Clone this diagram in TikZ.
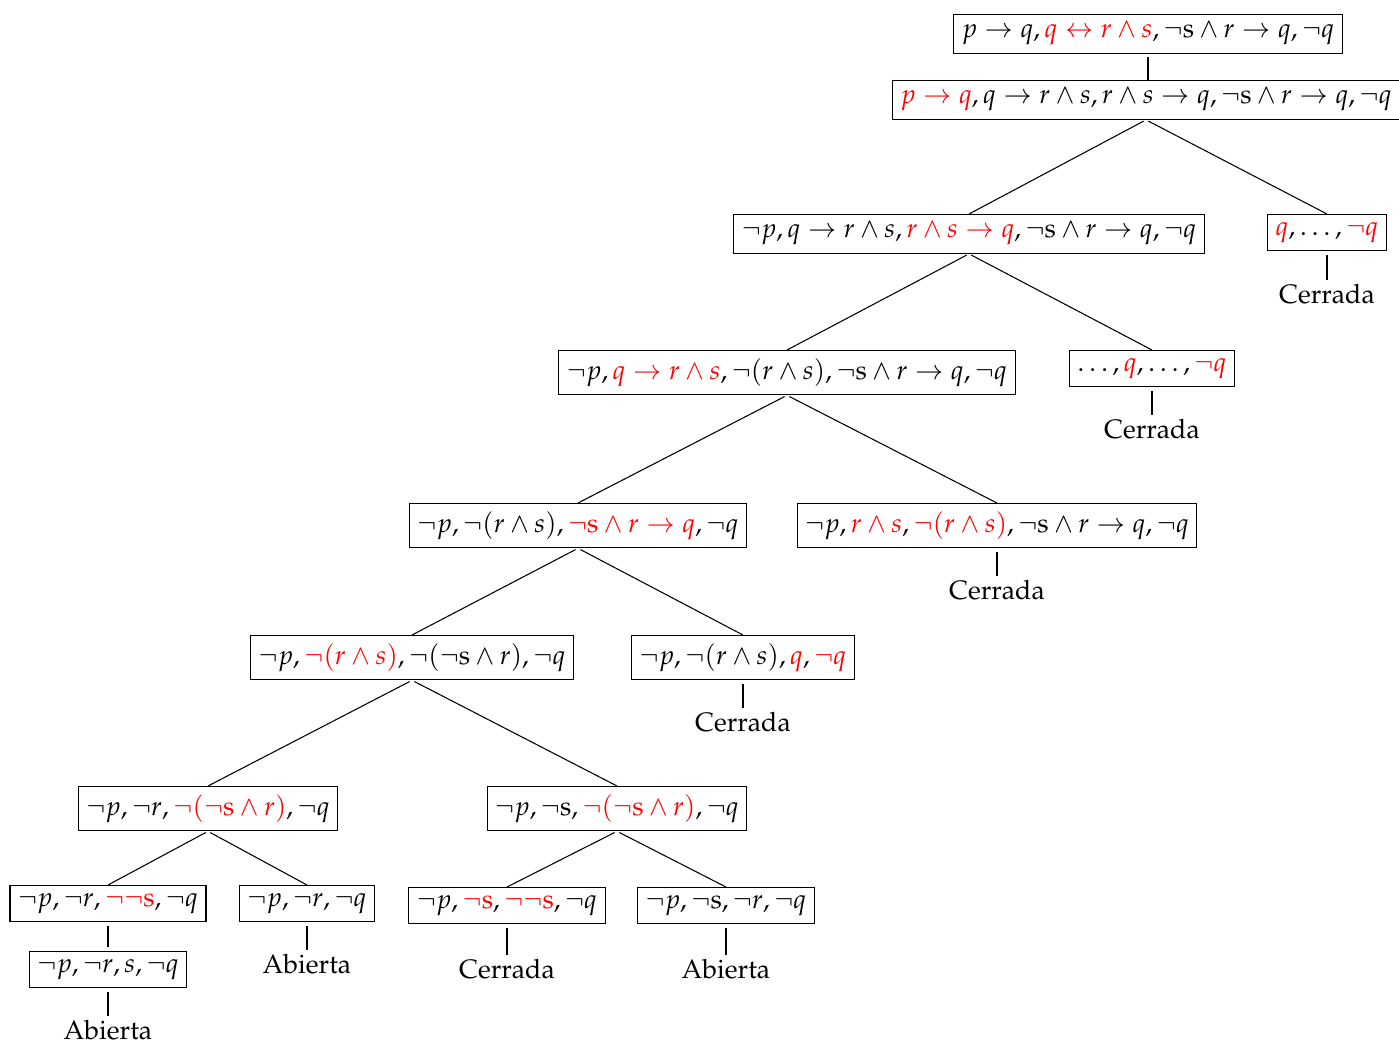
\documentclass[tikz,border=0pt]{standalone}
\usepackage[T1]{fontenc}
\usepackage{mathpazo}
\usepackage{xcolor}
\newcommand{\rd}[1]{\textcolor{red}{#1}}
\newcommand{\ns}{\neg\mathrm{s}}
\begin{document}
\begin{tikzpicture}[x=0.375pt,y=-0.375pt,
  fbox/.style={draw, inner sep=3pt, anchor=north, line width=0.4pt},
  lab/.style={inner sep=0pt},
  ln/.style={line width=0.4pt, shorten <=1pt},
  vl/.style={line width=0.4pt, shorten <=1.5pt, shorten >=1.5pt}]
\useasboundingbox (0,0) rectangle (1399,1044);
% nodes
\node[fbox] (n1) at (1148,14) {$p \to q, \rd{q \leftrightarrow r \wedge s}, \ns \wedge r \to q, \neg q$};
\node[fbox] (n2) at (1146,80) {$\rd{p\to q}, q \to r\wedge s, r\wedge s \to q, \ns\wedge r\to q, \neg q$};
\node[fbox] (n3l) at (969,214) {$\neg p, q\to r\wedge s, \rd{r\wedge s\to q}, \ns\wedge r\to q,\neg q$};
\node[fbox] (n3r) at (1327,214) {$\rd{q},\ldots,\rd{\neg q}$};
\node[fbox] (n4l) at (787,350) {$\neg p, \rd{q\to r\wedge s}, \neg(r\wedge s), \ns\wedge r\to q, \neg q$};
\node[fbox] (n4r) at (1152,350) {$\ldots,\rd{q},\ldots,\rd{\neg q}$};
\node[fbox] (n5l) at (578,503) {$\neg p, \neg(r\wedge s), \rd{\ns\wedge r\to q}, \neg q$};
\node[fbox] (n5r) at (997,503) {$\neg p, \rd{r\wedge s}, \rd{\neg(r\wedge s)}, \ns\wedge r\to q,\neg q$};
\node[fbox] (n6l) at (412,635) {$\neg p, \rd{\neg(r\wedge s)}, \neg(\ns\wedge r), \neg q$};
\node[fbox] (n6r) at (743,635) {$\neg p, \neg(r\wedge s), \rd{q}, \rd{\neg q}$};
\node[fbox] (n7l) at (208,786) {$\neg p, \neg r, \rd{\neg(\ns\wedge r)}, \neg q$};
\node[fbox] (n7r) at (617,786) {$\neg p, \ns, \rd{\neg(\ns\wedge r)},\neg q$};
\node[fbox] (n8a) at (108,885) {$\neg p,\neg r,\rd{\neg\ns},\neg q$};
\node[fbox] (n8b) at (307,885) {$\neg p,\neg r,\neg q$};
\node[fbox] (n8c) at (507,887) {$\neg p,\rd{\ns},\rd{\neg\ns},\neg q$};
\node[fbox] (n8d) at (726,887) {$\neg p,\ns,\neg r,\neg q$};
\node[fbox] (n9) at (108,951) {$\neg p,\neg r, s,\neg q$};
% labels
\node[lab] (c1) at (1327,294) {Cerrada};
\node[lab] (c2) at (1152,429) {Cerrada};
\node[lab] (c3) at (997,590) {Cerrada};
\node[lab] (c4) at (743,722) {Cerrada};
\node[lab] (a1) at (108,1030) {Abierta};
\node[lab] (a2) at (307,964) {Abierta};
\node[lab] (c5) at (507,969) {Cerrada};
\node[lab] (a3) at (726,969) {Abierta};
% edges
\draw[ln] (n1.south) -- (n1.south |- n2.north);
\draw[ln] (n2.south) -- (n3l.north);
\draw[ln] (n2.south) -- (n3r.north);
\draw[ln] (n3l.south) -- (n4l.north);
\draw[ln] (n3l.south) -- (n4r.north);
\draw[ln] (n4l.south) -- (n5l.north);
\draw[ln] (n4l.south) -- (n5r.north);
\draw[ln] (n5l.south) -- (n6l.north);
\draw[ln] (n5l.south) -- (n6r.north);
\draw[ln] (n6l.south) -- (n7l.north);
\draw[ln] (n6l.south) -- (n7r.north);
\draw[ln] (n7l.south) -- (n8a.north);
\draw[ln] (n7l.south) -- (n8b.north);
\draw[ln] (n7r.south) -- (n8c.north);
\draw[ln] (n7r.south) -- (n8d.north);
\draw[vl] (n8a.south) -- (n9.north);
\draw[vl] (n3r.south) -- (c1.north);
\draw[vl] (n4r.south) -- (c2.north);
\draw[vl] (n5r.south) -- (c3.north);
\draw[vl] (n6r.south) -- (c4.north);
\draw[vl] (n9.south) -- (a1.north);
\draw[vl] (n8b.south) -- (a2.north);
\draw[vl] (n8c.south) -- (c5.north);
\draw[vl] (n8d.south) -- (a3.north);
\end{tikzpicture}
\end{document}
